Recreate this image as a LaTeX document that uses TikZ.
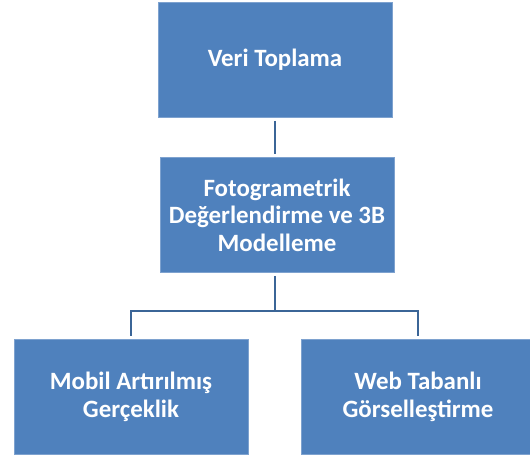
\documentclass[tikz,border=0pt]{standalone}
\usepackage{fontspec}
\setmainfont{Carlito}
\usetikzlibrary{positioning}
\definecolor{kutumavi}{HTML}{4F81BD}
\definecolor{kenarmavi}{HTML}{7EA2CF}
\definecolor{hatmavi}{HTML}{3B6597}
\begin{document}
\begin{tikzpicture}[x=1bp,y=-1bp,
	kutu/.style={fill=kutumavi,draw=kenarmavi,line width=0.8bp,minimum width=234bp,minimum height=115bp,align=center,text=white,font=\fontsize{25}{27.5}\selectfont\bfseries},
	hat/.style={draw=hatmavi,line width=2.2bp,shorten <=3bp,shorten >=3bp}]
	\useasboundingbox (0,0) rectangle (530,457);
	\node[kutu] (veri) at (275,60) {Veri Toplama};
	\node[kutu] (foto) at (277,215) {Fotogrametrik\\Değerlendirme ve 3B\\Modelleme};
	\node[kutu] (mobil) at (131,397) {Mobil Artırılmış\\Gerçeklik};
	\node[kutu] (web) at (418,397) {Web Tabanlı\\Görselleştirme};
	\coordinate (kol) at (275,311);
	\draw[hat] (veri.south -| kol) -- (foto.north -| kol);
	\draw[hat,shorten >=0pt] (foto.south -| kol) -- (kol);
	\draw[hat,shorten <=0pt] (kol) -| (mobil.north);
	\draw[hat,shorten <=0pt] (kol) -| (web.north);
\end{tikzpicture}
\end{document}
